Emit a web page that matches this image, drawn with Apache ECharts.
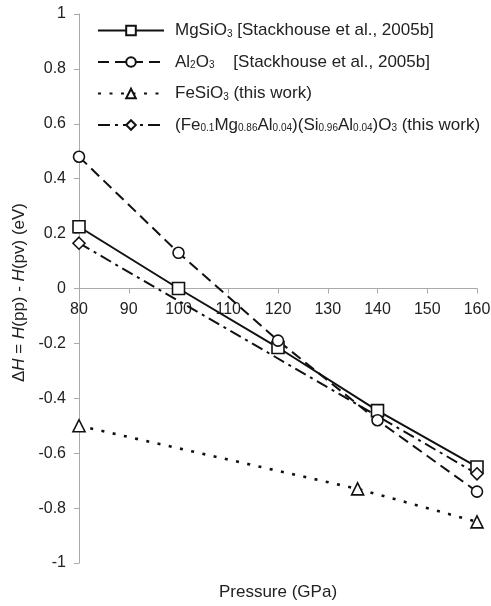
<!DOCTYPE html>
<html><head><meta charset="utf-8">
<script src="https://cdn.jsdelivr.net/npm/echarts@6/dist/echarts.min.js"></script>
<style>html,body{margin:0;padding:0;background:#fff}#c{width:491px;height:606px}</style>
</head><body><div id="c"></div>
<script>
var pressure = [80, 100, 120, 140, 160];
var mgsio3 = [0.225, 0.0, -0.215, -0.445, -0.65];
var al2o3 = [0.48, 0.13, -0.19, -0.48, -0.74];
var fesio3Pressure = [80, 136, 160];
var fesio3 = [-0.5, -0.73, -0.85];
var mixedPressure = [80, 160];
var mixed = [0.165, -0.675];
var xTicks = [80, 90, 100, 110, 120, 130, 140, 150, 160];
var yTicks = [-1, -0.8, -0.6, -0.4, -0.2, 0, 0.2, 0.4, 0.6, 0.8, 1];

var names = ['MgSiO3', 'Al2O3', 'FeSiO3', 'Mixed'];
var legendRich = {
  'MgSiO3': 'MgSiO{s|3} [Stackhouse et al., 2005b]',
  'Al2O3': 'Al{s|2}O{s|3}    [Stackhouse et al., 2005b]',
  'FeSiO3': 'FeSiO{s|3} (this work)',
  'Mixed': '(Fe{s|0.1}Mg{s|0.86}Al{s|0.04})(Si{s|0.96}Al{s|0.04})O{s|3} (this work)'
};
function zip(xs, ys) { return xs.map(function (x, i) { return [x, ys[i]]; }); }

var font = 'Liberation Sans, Arial, sans-serif';
var chart = echarts.init(document.getElementById('c'), null, {renderer: 'canvas'});
function mk(name, xs, ys, symbol, size, ltype, width, cap) {
  return {
    name: name, type: 'line', data: zip(xs, ys),
    symbol: symbol, symbolSize: size, showAllSymbol: true,
    itemStyle: {color: '#fff', borderColor: '#111', borderWidth: 1.6},
    lineStyle: {color: '#111', width: width || 2, type: ltype, cap: cap || 'butt'},
    emphasis: {disabled: true}, animation: false, z: 3
  };
}
var gridTop = 14, gridBottom = 43, H = 606;
var zeroOffset = -((H - gridTop - gridBottom) / 2);
chart.setOption({
  animation: false,
  backgroundColor: '#fff',
  grid: {left: 79, right: 14, top: gridTop, bottom: gridBottom, containLabel: false, outerBoundsMode: 'none'},
  legend: {
    data: names, orient: 'vertical', left: 92, top: 17,
    itemWidth: 66, itemHeight: 12, itemGap: 14.5,
    textStyle: {fontFamily: font, fontSize: 17, color: '#222', padding: [0, 0, 0, 6],
      rich: {s: {fontSize: 10, fontFamily: font, color: '#222', padding: [7, 0, 0, 0]}}},
    formatter: function (n) { return legendRich[n]; },
    selectedMode: false
  },
  xAxis: {
    type: 'value', min: 80, max: 160, interval: 10,
    position: 'bottom', offset: zeroOffset,
    axisLine: {onZero: false, lineStyle: {color: '#aaa', width: 1}},
    axisTick: {show: true, length: 5, lineStyle: {color: '#aaa'}},
    axisLabel: {fontFamily: font, fontSize: 16, color: '#222', margin: 13,
      formatter: function (v) { return xTicks.indexOf(v) >= 0 ? String(v) : ''; }},
    splitLine: {show: false},
    name: 'Pressure (GPa)', nameLocation: 'middle', nameGap: 295,
    nameTextStyle: {fontFamily: font, fontSize: 17, color: '#222'}
  },
  yAxis: {
    type: 'value', min: -1, max: 1, interval: 0.2,
    axisLine: {show: true, lineStyle: {color: '#aaa', width: 1}},
    axisTick: {show: true, length: 5, lineStyle: {color: '#aaa'}},
    axisLabel: {fontFamily: font, fontSize: 16, color: '#222', margin: 13,
      formatter: function (v) { var r = Math.round(v * 10) / 10; return String(r); }},
    splitLine: {show: false},
    name: '{n|\u0394}{i|H}{n| = }{i|H}{n|(pp) - }{i|H}{n|(pv) (eV)}',
    nameLocation: 'middle', nameRotate: 90, nameGap: 50,
    nameTextStyle: {fontFamily: font, fontSize: 17, color: '#222', padding: [0, 8, 0, 0],
      rich: {n: {fontFamily: font, fontSize: 17, color: '#222'},
             i: {fontFamily: font, fontSize: 17, color: '#222', fontStyle: 'italic'}}}
  },
  series: [
    mk('MgSiO3', pressure, mgsio3, 'rect', 12, 'solid'),
    mk('Al2O3', pressure, al2o3, 'circle', 11, [11, 6]),
    mk('FeSiO3', fesio3Pressure, fesio3, 'triangle', 12, [3, 8.5], 2.6),
    mk('Mixed', mixedPressure, mixed, 'diamond', 12, [12, 5, 3, 5])
  ]
});
</script></body></html>
